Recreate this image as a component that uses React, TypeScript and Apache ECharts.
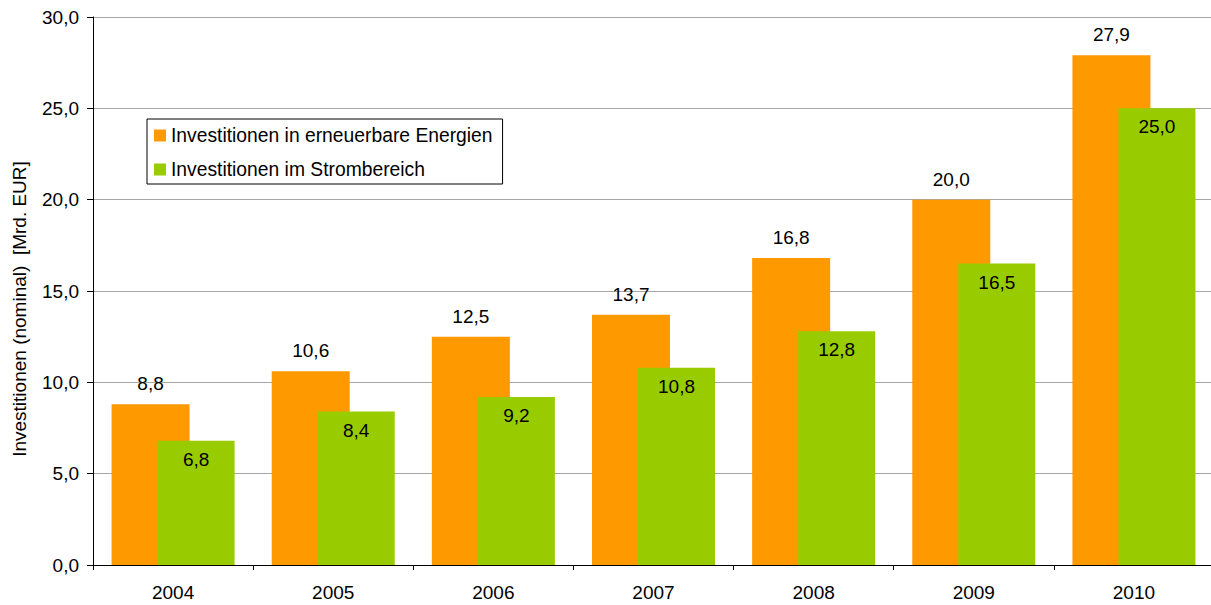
import React, { useEffect, useRef } from "react";
import * as echarts from "echarts";

const years = ["2004", "2005", "2006", "2007", "2008", "2009", "2010"];
const erneuerbare = [8.8, 10.6, 12.5, 13.7, 16.8, 20.0, 27.9];
const strom = [6.8, 8.4, 9.2, 10.8, 12.8, 16.5, 25.0];
const seriesNames = ["Investitionen in erneuerbare Energien", "Investitionen im Strombereich"];
const yAxisTitle = "Investitionen (nominal)  [Mrd. EUR]";

const FONT = "'Liberation Sans', Arial, sans-serif";
const FS = 19;
const fmt = (v: number) => v.toFixed(1).replace(".", ",");

export default function App() {
  const ref = useRef<HTMLDivElement>(null);
  useEffect(() => {
    if (!ref.current) return;
    const chart = echarts.init(ref.current, null, { renderer: "svg" });
    chart.setOption({
      animation: false,
      backgroundColor: "#ffffff",
      textStyle: { fontFamily: FONT },
      grid: { left: 93, right: 7, top: 17, bottom: 40, containLabel: false },
      legend: {
        orient: "vertical",
        left: 147,
        top: 119,
        padding: [7, 10, 5, 7],
        itemGap: 15,
        itemWidth: 12,
        itemHeight: 12,
        icon: "rect",
        backgroundColor: "#ffffff",
        borderColor: "#000000",
        borderWidth: 1,
        textStyle: { fontSize: 19.3, color: "#000000", fontFamily: FONT },
        data: seriesNames,
      },
      xAxis: {
        type: "category",
        data: years,
        axisLine: { lineStyle: { color: "#000000", width: 1 } },
        axisTick: { show: true, alignWithLabel: false, length: 5, lineStyle: { color: "#000000" } },
        axisLabel: { fontSize: FS, color: "#000000", margin: 18, fontFamily: FONT },
        splitLine: { show: false },
      },
      yAxis: {
        type: "value",
        min: 0,
        max: 30,
        interval: 5,
        name: yAxisTitle,
        nameLocation: "middle",
        nameGap: 64,
        nameRotate: 90,
        nameTextStyle: { fontSize: FS, color: "#000000", fontFamily: FONT, padding: [0, 36, 0, 0] },
        axisLine: { show: true, lineStyle: { color: "#000000", width: 1 } },
        axisTick: { show: true, inside: false, length: 6, lineStyle: { color: "#000000" } },
        axisLabel: { fontSize: FS, color: "#000000", margin: 14, fontFamily: FONT, formatter: (v: number) => fmt(v) },
        splitLine: { show: true, lineStyle: { color: "#a6a6a6", width: 1 } },
      },
      series: [
        {
          name: seriesNames[0],
          type: "bar",
          data: erneuerbare,
          barWidth: 78,
          barGap: "-41%",
          itemStyle: { color: "#FF9900" },
          label: {
            show: true,
            position: "top",
            distance: 11,
            fontSize: FS,
            color: "#000000",
            fontFamily: FONT,
            formatter: (p: any) => fmt(p.value),
          },
          z: 2,
        },
        {
          name: seriesNames[1],
          type: "bar",
          data: strom,
          barWidth: 77,
          itemStyle: { color: "#99CC00" },
          label: {
            show: true,
            position: "insideTop",
            distance: 9,
            fontSize: FS,
            color: "#000000",
            fontFamily: FONT,
            formatter: (p: any) => fmt(p.value),
          },
          z: 3,
        },
      ],
    });
    return () => chart.dispose();
  }, []);
  return (
    <div
      ref={ref}
      style={{ position: "fixed", left: 0, top: 0, width: 1221, height: 605, background: "#ffffff" }}
    />
  );
}
